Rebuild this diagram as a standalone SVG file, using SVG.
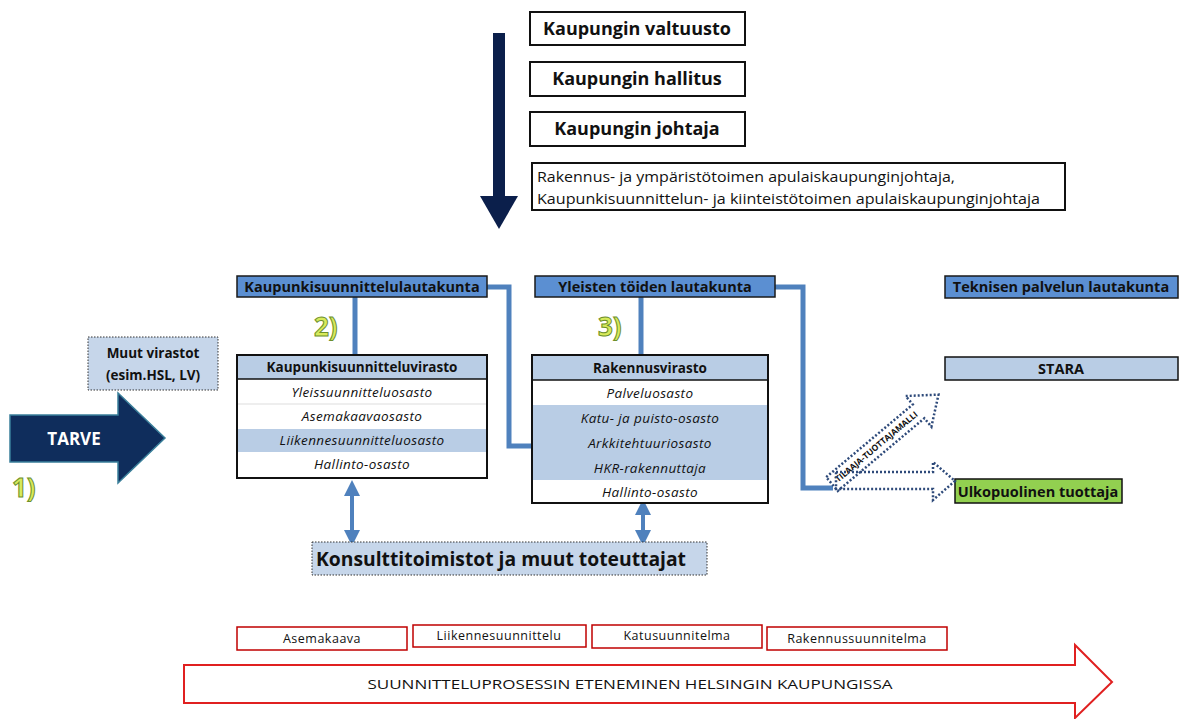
<svg xmlns="http://www.w3.org/2000/svg" width="1189" height="719" viewBox="0 0 1189 719">
<defs>
<style>
text{font-family:"Open Sans","Liberation Sans",sans-serif;fill:#111}
.top{fill:#fff;stroke:#111;stroke-width:2}
.tt{font-size:18px;font-weight:bold;text-anchor:middle}
.lk{fill:#5b8fd2;stroke:#1a1a1a;stroke-width:1.5}
.lkt{font-size:14.5px;font-weight:bold;text-anchor:middle}
.lb{fill:#b9cde5}
.hd{font-size:13.5px;font-weight:bold;text-anchor:middle}
.row{font-size:13.5px;font-style:italic;text-anchor:middle;letter-spacing:0.4px}
.conn{fill:none;stroke:#4f81bd;stroke-width:5}
.num{font-size:26px;font-weight:bold;fill:#d7ea5a;stroke:#6d8f2c;stroke-width:1}
.dot{fill:none;stroke:#2e4a7a;stroke-width:2.5;stroke-dasharray:2 2}
.red{fill:#fff;stroke:#c00000;stroke-width:1.5}
.rt{font-size:12.5px;text-anchor:middle;letter-spacing:0.5px}
</style>
<marker id="ah" viewBox="0 0 10 10" refX="5" refY="5" markerWidth="4" markerHeight="4" orient="auto-start-reverse"><path d="M0,0 L10,5 L0,10 z" fill="#4f81bd"/></marker>
</defs>
<rect width="1189" height="719" fill="#fff"/>

<g id="down-arrow">
<rect x="493" y="33" width="12" height="164" fill="#0b1f4b"/>
<polygon points="480,196 518,196 499,229" fill="#0b1f4b"/>
</g>

<g id="valtuusto"><rect class="top" x="530" y="12" width="215" height="33"/><text class="tt" x="637" y="35">Kaupungin valtuusto</text></g>
<g id="hallitus"><rect class="top" x="530" y="62" width="215" height="34"/><text class="tt" x="637" y="85">Kaupungin hallitus</text></g>
<g id="johtaja"><rect class="top" x="530" y="112" width="215" height="34"/><text class="tt" x="637" y="135">Kaupungin johtaja</text></g>
<g id="apulais"><rect class="top" x="532" y="163" width="533" height="47" stroke-width="1.5"/>
<text x="537" y="182" font-size="14" textLength="418" lengthAdjust="spacingAndGlyphs">Rakennus- ja ympäristötoimen apulaiskaupunginjohtaja,</text>
<text x="537" y="204" font-size="14" textLength="503" lengthAdjust="spacingAndGlyphs">Kaupunkisuunnittelun- ja kiinteistötoimen apulaiskaupunginjohtaja</text></g>

<g id="connectors">
<line class="conn" x1="355" y1="297" x2="355" y2="355"/>
<polyline class="conn" points="487,287 509,287 509,446 532,446"/>
<line class="conn" x1="641" y1="297" x2="641" y2="355"/>
<polyline class="conn" points="775,287 803,287 803,488 833,488"/>
<line x1="352" y1="488" x2="352" y2="538" stroke="#4f81bd" stroke-width="4" marker-start="url(#ah)" marker-end="url(#ah)"/>
<line x1="643" y1="507" x2="643" y2="538" stroke="#4f81bd" stroke-width="4" marker-start="url(#ah)" marker-end="url(#ah)"/>
</g>

<g id="ksla"><rect class="lk" x="237" y="276" width="250" height="21"/><text class="lkt" x="362" y="292">Kaupunkisuunnittelulautakunta</text></g>
<g id="ytla"><rect class="lk" x="535" y="276" width="240" height="21"/><text class="lkt" x="655" y="292">Yleisten töiden lautakunta</text></g>
<g id="tpla"><rect class="lk" x="945" y="276" width="233" height="22"/><text class="lkt" x="1061" y="292">Teknisen palvelun lautakunta</text></g>

<text class="num" x="314" y="336">2)</text>
<text class="num" x="598" y="336">3)</text>
<text class="num" x="12" y="497">1)</text>

<g id="ksv">
<rect x="237" y="355" width="250" height="123" fill="#fff"/>
<rect class="lb" x="237" y="355" width="250" height="24"/>
<rect class="lb" x="237" y="429" width="250" height="23"/>
<line x1="237" y1="379" x2="487" y2="379" stroke="#111" stroke-width="1.5"/>
<line x1="237" y1="404" x2="487" y2="404" stroke="#ddd" stroke-width="1"/>
<rect x="237" y="355" width="250" height="123" fill="none" stroke="#111" stroke-width="2"/>
<text class="hd" x="362" y="372">Kaupunkisuunnitteluvirasto</text>
<text class="row" x="362" y="397">Yleissuunnitteluosasto</text>
<text class="row" x="362" y="421">Asemakaavaosasto</text>
<text class="row" x="362" y="445">Liikennesuunnitteluosasto</text>
<text class="row" x="362" y="469">Hallinto-osasto</text>
</g>

<g id="rakv">
<rect x="532" y="355" width="236" height="148" fill="#fff"/>
<rect class="lb" x="532" y="355" width="236" height="25"/>
<rect class="lb" x="532" y="405" width="236" height="75"/>
<line x1="532" y1="380" x2="768" y2="380" stroke="#111" stroke-width="1.5"/>
<rect x="532" y="355" width="236" height="148" fill="none" stroke="#111" stroke-width="2"/>
<text class="hd" x="650" y="373">Rakennusvirasto</text>
<text class="row" x="650" y="398">Palveluosasto</text>
<text class="row" x="650" y="423">Katu- ja puisto-osasto</text>
<text class="row" x="650" y="448">Arkkitehtuuriosasto</text>
<text class="row" x="650" y="473">HKR-rakennuttaja</text>
<text class="row" x="650" y="497">Hallinto-osasto</text>
</g>

<g id="stara"><rect x="945" y="357" width="233" height="23" fill="#b9cde5" stroke="#111" stroke-width="1.5"/><text class="lkt" x="1061" y="374">STARA</text></g>
<g id="ulko"><rect x="955" y="479" width="167" height="24" fill="#92d050" stroke="#111" stroke-width="1.5"/><text x="1038" y="497" font-size="14.5" font-weight="bold" text-anchor="middle">Ulkopuolinen tuottaja</text></g>

<g id="tilaaja">
<g transform="translate(832,484) rotate(-40)">
<polygon class="dot" points="0,-9 113,-9 113,-20 139,0 113,20 113,9 0,9"/>
<text x="58" y="3" font-size="8.5" font-weight="bold" text-anchor="middle">TILAAJA-TUOTTAJAMALLI</text>
</g>
<polygon class="dot" points="836,472 933,472 933,462 955,481 933,500 933,489 836,489"/>
</g>

<g id="muut"><rect x="88" y="337" width="130" height="53" fill="#c6d6ea" stroke="#333" stroke-width="1" stroke-dasharray="1.5 1.5"/>
<text x="153" y="358" font-size="13.5" font-weight="bold" text-anchor="middle">Muut virastot</text>
<text x="153" y="380" font-size="13.5" font-weight="bold" text-anchor="middle">(esim.HSL, LV)</text></g>

<g id="tarve"><polygon points="10,415 118,415 118,393 165,438 118,483 118,462 10,462" fill="#0f2d5c" stroke="#3a7f9a" stroke-width="1.5"/>
<text x="74" y="445" font-size="17" font-weight="bold" style="fill:#fff" text-anchor="middle">TARVE</text></g>

<g id="konsultti"><rect x="312" y="542" width="395" height="33" fill="#c6d6ea" stroke="#333" stroke-width="1" stroke-dasharray="1.5 1.5"/>
<text x="316" y="566" font-size="19" font-weight="bold" textLength="370" lengthAdjust="spacingAndGlyphs">Konsulttitoimistot ja muut toteuttajat</text></g>

<g id="asemakaava"><rect class="red" x="237" y="627" width="170" height="23"/><text class="rt" x="322" y="643">Asemakaava</text></g>
<g id="liikenne"><rect class="red" x="413" y="625" width="173" height="22"/><text class="rt" x="499" y="640">Liikennesuunnittelu</text></g>
<g id="katu"><rect class="red" x="592" y="625" width="170" height="23"/><text class="rt" x="677" y="640">Katusuunnitelma</text></g>
<g id="rakennus"><rect class="red" x="767" y="627" width="180" height="23"/><text class="rt" x="857" y="643">Rakennussuunnitelma</text></g>

<g id="prosessi"><polygon points="184,665 1075,665 1075,645 1112,682 1075,718 1075,703 184,703" fill="#fff" stroke="#e02020" stroke-width="2"/>
<text x="630" y="689" font-size="13" text-anchor="middle" textLength="525" lengthAdjust="spacingAndGlyphs">SUUNNITTELUPROSESSIN ETENEMINEN HELSINGIN KAUPUNGISSA</text></g>
</svg>
